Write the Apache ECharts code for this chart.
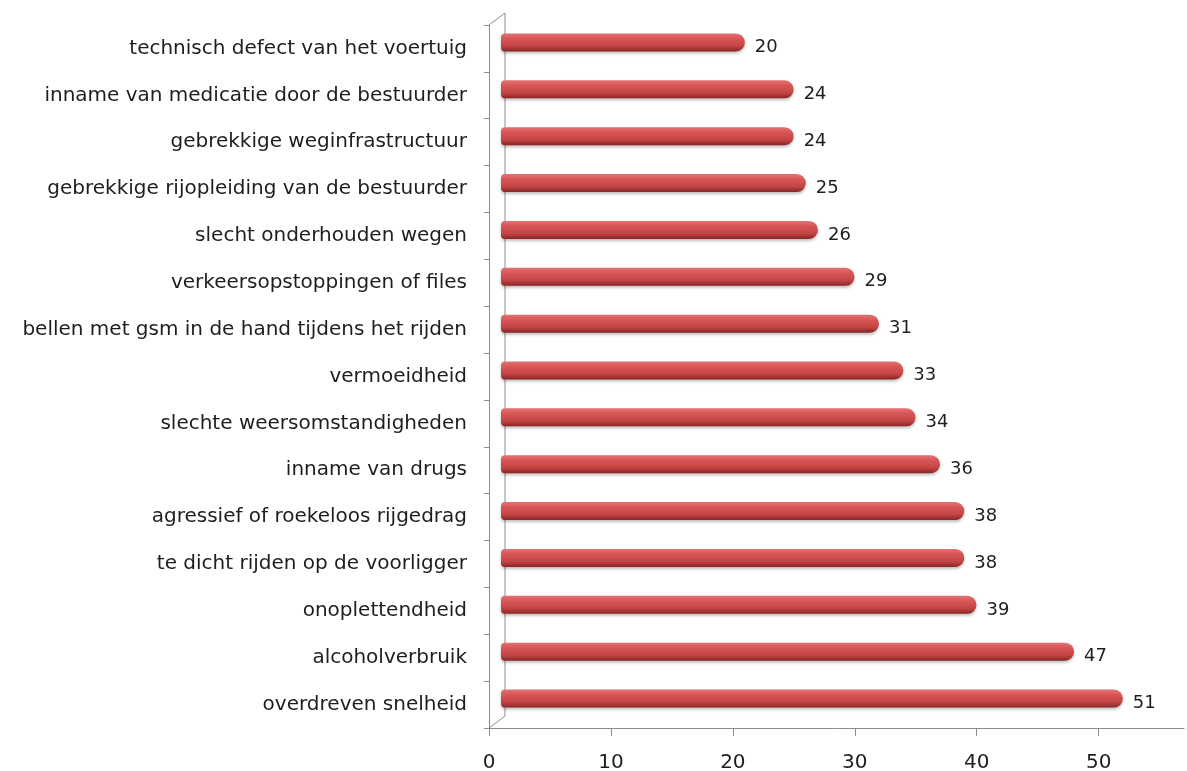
<!DOCTYPE html>
<html>
<head>
<meta charset="utf-8">
<script src="https://cdn.jsdelivr.net/npm/echarts@6/dist/echarts.min.js"></script>
<style>
  html, body { margin: 0; padding: 0; background: #fff; }
  #main { width: 1187px; height: 771px; }
</style>
</head>
<body>
<div id="main"></div>
<script>
// oorzaken van verkeersongevallen (van onder naar boven)
var categories = [
    'overdreven snelheid',
    'alcoholverbruik',
    'onoplettendheid',
    'te dicht rijden op de voorligger',
    'agressief of roekeloos rijgedrag',
    'inname van drugs',
    'slechte weersomstandigheden',
    'vermoeidheid',
    'bellen met gsm in de hand tijdens het rijden',
    'verkeersopstoppingen of files',
    'slecht onderhouden wegen',
    'gebrekkige rijopleiding van de bestuurder',
    'gebrekkige weginfrastructuur',
    'inname van medicatie door de bestuurder',
    'technisch defect van het voertuig'
];
var values = [51, 47, 39, 38, 38, 36, 34, 33, 31, 29, 26, 25, 24, 24, 20];
var xMax = 57;

var myChart = echarts.init(document.getElementById('main'));

var axisGrey = '#8c8c8c';
var font = '"DejaVu Sans", sans-serif';

// achterste vlak is 12px naar rechts verschoven en past nog net in het venster
var frontWidth = 695, backLeft = 501, backWidth = 1187 - backLeft;
var backMax = xMax * backWidth / frontWidth;

option = {
    animation: false,
    grid: [
        { left: 489, top: 25, width: frontWidth, height: 703, outerBoundsMode: 'none', containLabel: false },     // voorkant: assen
        { left: backLeft, top: 19, width: backWidth, height: 703, outerBoundsMode: 'none', containLabel: false }  // achterkant: staven
    ],
    xAxis: [{
        gridIndex: 0,
        type: 'value',
        min: 0,
        max: xMax,
        interval: 10,
        axisLine: { show: true, lineStyle: { color: axisGrey, width: 1 } },
        axisTick: { show: true, length: 8, inside: false, lineStyle: { color: axisGrey } },
        splitLine: { show: false },
        axisLabel: {
            margin: 25,
            color: '#1e1e1e',
            fontSize: 20,
            fontFamily: font,
            showMaxLabel: false
        }
    }, {
        gridIndex: 1,
        type: 'value',
        min: 0,
        max: backMax,
        show: false
    }],
    yAxis: [{
        gridIndex: 0,
        type: 'category',
        data: categories,
        axisLine: { show: true, lineStyle: { color: axisGrey, width: 1 } },
        axisTick: { show: true, length: 5, lineStyle: { color: axisGrey } },
        axisLabel: {
            margin: 22,
            color: '#1e1e1e',
            fontSize: 20,
            fontFamily: font
        }
    }, {
        gridIndex: 1,
        type: 'category',
        data: categories,
        show: false
    }],
    graphic: [
        // achterwand
        { type: 'line', shape: { x1: 505, y1: 13, x2: 505, y2: 716 }, style: { stroke: axisGrey, lineWidth: 1 }, silent: true },
        { type: 'line', shape: { x1: 489, y1: 25, x2: 505, y2: 13 }, style: { stroke: axisGrey, lineWidth: 1 }, silent: true },
        { type: 'line', shape: { x1: 489, y1: 728, x2: 505, y2: 716 }, style: { stroke: axisGrey, lineWidth: 1 }, silent: true }
    ],
    series: [{
        type: 'bar',
        xAxisIndex: 1,
        yAxisIndex: 1,
        data: values,
        barWidth: 18,
        itemStyle: {
            borderRadius: [4, 9, 9, 4],
            color: new echarts.graphic.LinearGradient(0, 0, 0, 1, [
                { offset: 0, color: '#e47272' },
                { offset: 0.3, color: '#d85555' },
                { offset: 0.7, color: '#c44444' },
                { offset: 1, color: '#862626' }
            ]),
            shadowColor: 'rgba(0,0,0,0.25)',
            shadowBlur: 3,
            shadowOffsetY: 2
        },
        label: {
            show: true,
            position: 'right',
            distance: 10,
            offset: [0, 5],
            color: '#1e1e1e',
            fontSize: 18,
            fontFamily: font
        }
    }]
};

myChart.setOption(option);
</script>
</body>
</html>
